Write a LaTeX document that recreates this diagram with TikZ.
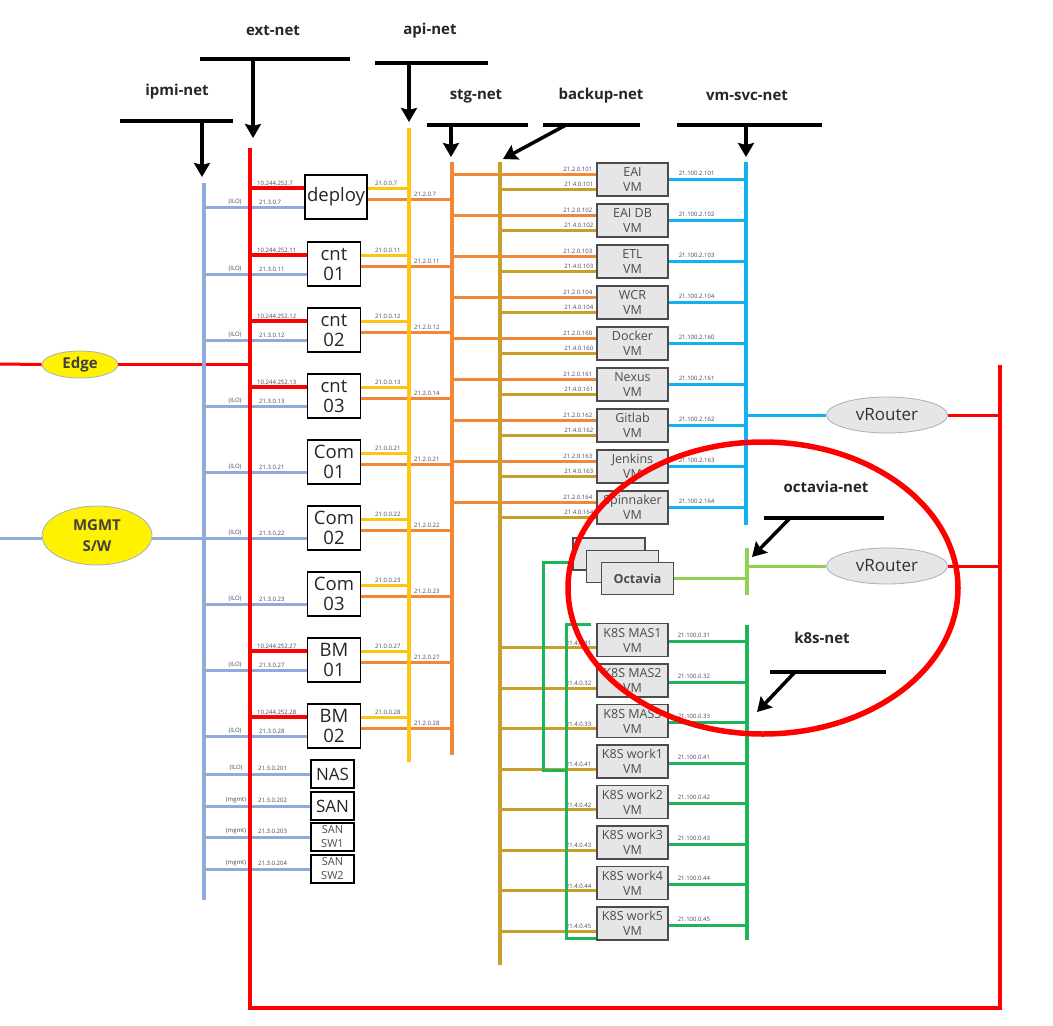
\documentclass[tikz,border=0pt]{standalone}
\usepackage{fontspec}
\setmainfont{Open Sans}
\usetikzlibrary{arrows.meta,shapes.geometric}

\definecolor{ipmiblue}{RGB}{143,170,220}
\definecolor{extred}{RGB}{255,0,0}
\definecolor{apiyellow}{RGB}{255,196,20}
\definecolor{stgorange}{RGB}{240,136,58}
\definecolor{backupgold}{RGB}{200,160,40}
\definecolor{svccyan}{RGB}{20,176,240}
\definecolor{octgreen}{RGB}{146,208,80}
\definecolor{k8sgreen}{RGB}{30,180,90}
\definecolor{vmgray}{RGB}{230,230,230}
\definecolor{iptext}{RGB}{70,70,90}
\definecolor{ellline}{RGB}{160,176,200}

\begin{document}
\begin{tikzpicture}[x=1pt, y=-1pt, >={Stealth[length=14pt,width=16pt,inset=2pt]},
    host/.style={draw, line width=1.3pt, fill=white, align=center, inner sep=0pt,
      minimum width=53pt, minimum height=44pt,
      font=\fontsize{18.5}{20}\selectfont, text=black!85},
    store/.style={host, minimum width=43pt, minimum height=28pt,
      font=\fontsize{17}{17}\selectfont},
    smallstore/.style={store, font=\fontsize{11}{14}\selectfont, text=black!70},
    vm/.style={draw=black!70, line width=1.2pt, fill=vmgray, align=center,
      inner sep=0pt, minimum width=71pt, minimum height=33pt,
      font=\fontsize{12.5}{15}\selectfont, text=black!70},
    router/.style={ellipse, draw=ellline, line width=0.8pt, fill=vmgray,
      minimum width=121pt, minimum height=36pt, inner sep=0pt,
      font=\fontsize{17}{17}\selectfont, text=black!80},
    outside/.style={ellipse, draw=ellline, line width=0.8pt, fill=yellow,
      inner sep=0pt, align=center, font=\fontsize{15}{21}\selectfont\bfseries,
      text=black!75},
    bus/.style={line width=4.5pt},
    link/.style={line width=3pt},
    ip/.style={font=\fontsize{6}{6}\selectfont, text=iptext, inner sep=0pt},
    netname/.style={font=\fontsize{15}{15}\selectfont\bfseries, text=black!85},
    netbar/.style={line width=3.5pt},
    netarrow/.style={line width=3.5pt, ->}]
  \useasboundingbox (0,0) rectangle (1053,1026);

  % bus ends
  \coordinate (ipmi) at (204,183);    \coordinate (ipmi-end) at (204,900);
  \coordinate (ext) at (250,148);     \coordinate (ext-end) at (250,1008);
  \coordinate (ext-corner) at (1000,1008); \coordinate (ext-right) at (1000,365);
  \coordinate (api) at (409,128);     \coordinate (api-end) at (409,762);
  \coordinate (stg) at (452,162);     \coordinate (stg-end) at (452,755);
  \coordinate (backup) at (500,162);  \coordinate (backup-end) at (500,965);
  \coordinate (svc) at (746,162);     \coordinate (svc-end) at (746,525);
  \coordinate (oct) at (747,548);     \coordinate (oct-end) at (747,595);
  \coordinate (k8s) at (747,625);     \coordinate (k8s-end) at (747,940);

  % network names
  \node[netname] (ipmi-lbl) at (177,92) {ipmi-net};
  \node[netname] (ext-lbl) at (273,31) {ext-net};
  \node[netname] (api-lbl) at (430,31) {api-net};
  \node[netname] (stg-lbl) at (476,96) {stg-net};
  \node[netname] (backup-lbl) at (601,96) {backup-net};
  \node[netname] (svc-lbl) at (747,96) {vm-svc-net};
  \node[netname] (oct-lbl) at (826,487) {octavia-net};
  \node[netname] (k8s-lbl) at (822,638) {k8s-net};

  \draw[netbar] (120,121) -- (233,121);
  \draw[netbar] (200,59) -- (350,59);
  \draw[netbar] (375,63) -- (488,63);
  \draw[netbar] (427,125) -- (528,125);
  \draw[netbar] (543,125) -- (640,125);
  \draw[netbar] (677,125) -- (822,125);
  \draw[netbar] (764,518) -- (884,518);
  \draw[netbar] (770,672) -- (886,672);

  \coordinate (ipmi-bar) at (202,121);
  \coordinate (ext-bar) at (253,59);
  \coordinate (api-bar) at (409,63);
  \coordinate (stg-bar) at (451,125);
  \coordinate (backup-bar) at (566,125);
  \coordinate (svc-bar) at (746,125);
  \coordinate (oct-bar) at (790,518);
  \coordinate (k8s-bar) at (795,672);
  \coordinate (k8s-hit) at (757,712);
  \draw[netarrow] (ipmi-bar) -- ([xshift=-2pt,yshift=6pt]ipmi);
  \draw[netarrow] (ext-bar) -- ([xshift=3pt,yshift=10pt]ext);
  \draw[netarrow] (api-bar) -- ([yshift=6pt]api);
  \draw[netarrow] (stg-bar) -- ([xshift=-1pt,yshift=5pt]stg);
  \draw[netarrow] (backup-bar) -- ([xshift=3pt,yshift=3pt]backup);
  \draw[netarrow] (svc-bar) -- ([yshift=5pt]svc);
  \draw[netarrow] (oct-bar) -- ([xshift=5pt,yshift=-9pt]oct);
  \draw[netarrow] (k8s-bar) -- (k8s-hit);

  % outside
  \node[outside, minimum width=76pt, minimum height=27pt] (edge) at (80,364.5) {Edge};
  \node[outside, minimum width=110pt, minimum height=59pt] (mgmt) at (97,535.5) {MGMT\\S/W};
  \coordinate (edge-in) at (0,364);
  \coordinate (mgmt-in) at (0,538);
  \draw[link,extred] (edge-in) -- (edge.west);
  \draw[link,extred] (edge.east) -- (edge.east -| ext);
  \draw[link,ipmiblue] (mgmt-in) -- (mgmt-in -| mgmt.west);
  \draw[link,ipmiblue] (mgmt-in -| mgmt.east) -- (mgmt-in -| ipmi);

  % servers
  \node[host, minimum width=62pt] (deploy) at (336,197) {deploy};
  \node[host] (cnt01) at (334,264) {cnt\\01};
  \node[host] (cnt02) at (334,330) {cnt\\02};
  \node[host] (cnt03) at (334,396) {cnt\\03};
  \node[host] (com01) at (334,462) {Com\\01};
  \node[host] (com02) at (334,528) {Com\\02};
  \node[host] (com03) at (334,594) {Com\\03};
  \node[host] (bm01) at (334,660) {BM\\01};
  \node[host] (bm02) at (334,726) {BM\\02};

  \foreach \h/\ilo/\apiip/\stgip in {deploy/21.3.0.7/21.0.0.7/21.2.0.7,
      cnt01/21.3.0.11/21.0.0.11/21.2.0.11, cnt02/21.3.0.12/21.0.0.12/21.2.0.12,
      cnt03/21.3.0.13/21.0.0.13/21.2.0.14, com01/21.3.0.21/21.0.0.21/21.2.0.21,
      com02/21.3.0.22/21.0.0.22/21.2.0.22, com03/21.3.0.23/21.0.0.23/21.2.0.23,
      bm01/21.3.0.27/21.0.0.27/21.2.0.27, bm02/21.3.0.28/21.0.0.28/21.2.0.28}{
    \coordinate (\h-ilo) at ([yshift=-33pt]\h.north west);
    \coordinate (\h-api) at ([yshift=-14pt]\h.north east);
    \coordinate (\h-stg) at ([yshift=-25pt]\h.north east);
    \draw[link,ipmiblue] (\h-ilo -| ipmi) -- (\h-ilo);
    \draw[link,apiyellow] (\h-api) -- (\h-api -| api);
    \draw[link,stgorange] (\h-stg) -- (\h-stg -| stg);
    \path (\h-ilo -| ipmi) ++(31,-2.5) node[ip,anchor=south] {(ILO)};
    \path (\h-ilo -| ext) ++(9,-2.5) node[ip,anchor=south west] {\ilo};
    \path (\h-api -| api) ++(-34,-2.5) node[ip,anchor=south west] {\apiip};
    \path (\h-stg -| api) ++(5,-2.5) node[ip,anchor=south west] {\stgip};
  }
  \foreach \h/\eip in {deploy/10.244.252.7, cnt01/10.244.252.11, cnt02/10.244.252.12,
      cnt03/10.244.252.13, bm01/10.244.252.27, bm02/10.244.252.28}{
    \coordinate (\h-ext) at ([yshift=-14pt]\h.north west);
    \draw[link,extred,line width=4pt] (\h-ext -| ext) -- (\h-ext);
    \path (\h-ext -| ext) ++(7,-3) node[ip,anchor=south west] {\eip};
  }

  % storage
  \node[store] (nas) at (332.5,774) {NAS};
  \node[store] (san) at (332.5,806) {SAN};
  \node[smallstore] (sansw1) at (332.5,837) {SAN\\SW1};
  \node[smallstore] (sansw2) at (332.5,869) {SAN\\SW2};
  \foreach \s/\tag/\sip in {nas/(ILO)/21.3.0.201, san/(mgmt)/21.3.0.202,
      sansw1/(mgmt)/21.3.0.203, sansw2/(mgmt)/21.3.0.204}{
    \draw[link,ipmiblue] (\s.west -| ipmi) -- (\s.west);
    \path (\s.west -| ipmi) ++(32,-3) node[ip,anchor=south] {\tag};
    \path (\s.west -| ext) ++(8,-3) node[ip,anchor=south west] {\sip};
  }

  % service VMs
  \foreach \v/\name/\n [count=\i] in {eai/EAI/101, eaidb/EAI DB/102, etl/ETL/103,
      wcr/WCR/104, docker/Docker/160, nexus/Nexus/161, gitlab/Gitlab/162,
      jenkins/Jenkins/163, spin/Spinnaker/164}{
    \node[vm] (\v) at (632.5,{179.5+41*(\i-1)}) {\name\\VM};
    \coordinate (\v-stg) at ([yshift=-12pt]\v.north west);
    \coordinate (\v-bak) at ([yshift=-27pt]\v.north west);
    \coordinate (\v-svc) at ([yshift=-17pt]\v.north east);
    \draw[link,stgorange] (\v-stg -| stg) -- (\v-stg);
    \draw[link,backupgold] (\v-bak -| backup) -- (\v-bak);
    \draw[link,svccyan] (\v-svc) -- (\v-svc -| svc);
    \path (\v-stg) ++(-4,-2.5) node[ip,anchor=south east] {21.2.0.\n};
    \path (\v-bak) ++(-3,-2.5) node[ip,anchor=south east] {21.4.0.\n};
    \path (\v-svc) ++(10,-4) node[ip,anchor=south west] {21.100.2.\n};
  }

  % octavia
  \node[vm, minimum width=72pt, minimum height=32pt] (octb) at (609,554) {};
  \node[vm, minimum width=72pt, minimum height=32pt] (octm) at (622.5,566.5) {};
  \node[vm, minimum width=72pt, minimum height=32pt, font=\fontsize{12.5}{14}\selectfont\bfseries]
    (octavia) at (637.5,578.5) {Octavia};
  \draw[link,octgreen] (octavia.east) -- (octavia.east -| oct);

  % k8s VMs
  \foreach \k/\name/\n [count=\i] in {mas1/K8S MAS1/31, mas2/K8S MAS2/32, mas3/K8S MAS3/33,
      work1/K8S work1/41, work2/K8S work2/42, work3/K8S work3/43,
      work4/K8S work4/44, work5/K8S work5/45}{
    \node[vm] (\k) at (632.5,{640+40.5*(\i-1)}) {\name\\VM};
    \coordinate (\k-bak) at ([yshift=-25pt]\k.north west);
    \coordinate (\k-net) at ([yshift=-19pt]\k.north east);
    \draw[link,backupgold] (\k-bak -| backup) -- (\k-bak);
    \draw[link,k8sgreen] (\k-net) -- (\k-net -| k8s);
    \path (\k-bak) ++(-5,-2.5) node[ip,anchor=south east] {21.4.0.\n};
    \path (\k-net) ++(9,-4) node[ip,anchor=south west] {21.100.0.\n};
  }
  \coordinate (loop-a) at (543,770);
  \draw[link,k8sgreen] ([yshift=-8pt]octb.west) -| (loop-a) -- ([xshift=-30pt]work1.west |- loop-a);
  \draw[link,k8sgreen] ([xshift=-5pt,yshift=-2pt]mas1.north west)
    -| ([xshift=-30pt,yshift=2pt]work5.south west) -- ([yshift=2pt]work5.south west);

  % routers
  \node[router] (vr1) at (887,415) {vRouter};
  \node[router] (vr2) at (887,566) {vRouter};
  \draw[link,svccyan] (vr1.west) -- (vr1.west -| svc);
  \draw[link,octgreen] (vr2.west) -- (vr2.west -| oct);
  \draw[link,extred] (vr1.east) -- (vr1.east -| ext-right);
  \draw[link,extred] (vr2.east) -- (vr2.east -| ext-right);

  % buses
  \draw[bus,ipmiblue] (ipmi) -- (ipmi-end);
  \draw[bus,extred,line width=4pt] (ext) -- (ext-end) -- (ext-corner) -- (ext-right);
  \draw[bus,apiyellow] (api) -- (api-end);
  \draw[bus,stgorange,line width=4pt] (stg) -- (stg-end);
  \draw[bus,backupgold,line width=4pt] (backup) -- (backup-end);
  \draw[bus,svccyan,line width=4pt] (svc) -- (svc-end);
  \draw[bus,octgreen,line width=4pt] (oct) -- (oct-end);
  \draw[bus,k8sgreen,line width=4pt] (k8s) -- (k8s-end);

  % highlight
  \draw[extred, line width=5.5pt] (763,588) ellipse [x radius=195pt, y radius=146pt];
\end{tikzpicture}
\end{document}
